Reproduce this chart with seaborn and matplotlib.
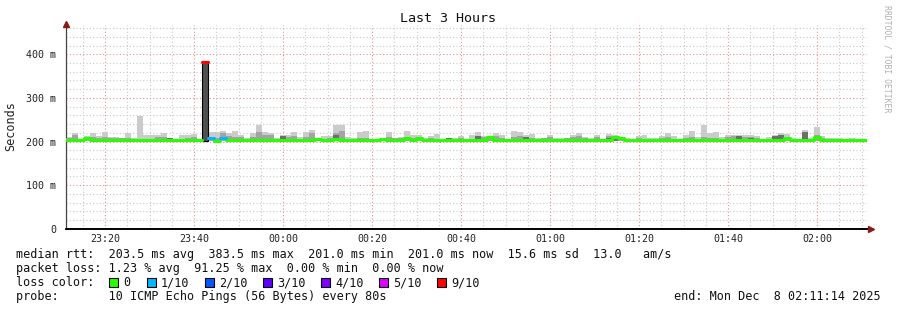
import datetime as dt
import numpy as np
import pandas as pd
import matplotlib
matplotlib.use("Agg")
import matplotlib.pyplot as plt
from matplotlib.patches import Rectangle
import seaborn as sns

# ---------------- data (ms), one value per 80 s step ----------------
smoke_floor = 201.0
smoke_max = [210, 220, 206, 212, 220, 212, 222, 210, 210, 208, 220, 208, 259, 216, 214, 214, 220, 208, 206, 216, 216, 217, 204, 385, 222, 222, 225,
             220, 224, 214, 207, 220, 239, 222, 220, 208, 214, 216, 222, 210, 222, 227, 208, 212, 212, 239, 239, 210, 207, 222, 224, 206, 206, 208, 222,
             208, 210, 225, 216, 216, 207, 212, 217, 206, 208, 207, 212, 205, 216, 222, 212, 212, 220, 216, 206, 225, 222, 216, 217, 207, 208, 214, 208,
             207, 208, 214, 220, 210, 207, 216, 203, 217, 216, 208, 207, 206, 212, 216, 208, 207, 212, 220, 212, 203, 214, 224, 210, 239, 220, 222, 210,
             214, 214, 214, 216, 214, 212, 206, 210, 216, 220, 217, 207, 205, 227, 207, 233, 212, 207, 207, 207, 205, 208, 203, 203]
smoke_mid = [207, 216, 204, 208, 210, 208, 210, 208, 208, 207, 208, 206, 206, 206, 206, 210, 210, 207, 205, 206, 208, 210, 203, 385, 208, 208, 220,
             212, 210, 210, 205, 210, 222, 214, 214, 206, 212, 210, 212, 206, 210, 220, 206, 206, 208, 220, 224, 206, 205, 208, 208, 205, 205, 206, 210,
             207, 207, 208, 208, 205, 205, 208, 205, 205, 207, 205, 208, 204, 206, 212, 210, 210, 212, 208, 205, 210, 212, 210, 207, 205, 207, 210, 206,
             206, 207, 210, 212, 208, 205, 210, 203, 212, 212, 206, 205, 205, 208, 206, 206, 205, 208, 210, 206, 203, 208, 210, 206, 210, 208, 208, 206,
             210, 212, 212, 210, 210, 208, 205, 206, 212, 216, 208, 205, 204, 222, 205, 214, 208, 205, 205, 205, 204, 206, 203, 203]
smoke_dark = [201, 201, 201, 201, 201, 201, 201, 201, 201, 201, 201, 201, 201, 201, 201, 201, 201, 207, 201, 201, 201, 201, 201, 385, 201, 201, 201,
              201, 201, 201, 201, 201, 201, 201, 201, 201, 212, 201, 201, 201, 201, 201, 201, 201, 201, 216, 201, 201, 201, 201, 201, 201, 201, 201, 201,
              201, 201, 201, 201, 201, 201, 201, 201, 201, 207, 201, 201, 201, 201, 212, 201, 201, 201, 201, 201, 201, 201, 210, 201, 201, 201, 201, 201,
              206, 201, 201, 201, 201, 205, 201, 201, 207, 212, 201, 201, 201, 201, 201, 201, 201, 201, 201, 201, 201, 201, 201, 201, 201, 201, 201, 201,
              201, 201, 212, 201, 207, 201, 201, 201, 212, 216, 201, 201, 201, 222, 201, 201, 201, 201, 201, 201, 201, 201, 201, 201]
median = [203, 203, 203, 208, 203, 203, 203, 203, 203, 203, 203, 203, 203, 203, 203, 203, 203, 203, 203, 203, 203, 203, 203, 383.5, 208, 201, 207,
          203, 203, 203, 203, 203, 203, 203, 203, 203, 204, 203, 203, 203, 203, 203, 206, 203, 203, 206, 203, 203, 203, 203, 203, 203, 203, 206, 203,
          203, 203, 208, 203, 208, 203, 203, 203, 203, 203, 203, 203, 203, 203, 203, 203, 210, 203, 203, 203, 203, 203, 203, 203, 203, 203, 203, 203,
          203, 203, 203, 203, 203, 203, 203, 203, 203, 210, 208, 203, 203, 203, 203, 203, 203, 203, 203, 203, 203, 203, 203, 203, 203, 203, 203, 203,
          203, 203, 203, 203, 203, 203, 203, 203, 203, 203, 208, 203, 203, 203, 203, 210, 203, 203, 203, 203, 203, 203, 203, 203]
loss_level = [0] * 23 + [9, 1, 0, 1] + [0] * 108

loss_labels = ["0", "1/10", "2/10", "3/10", "4/10", "5/10", "9/10"]
loss_values = [0, 1, 2, 3, 4, 5, 9]
loss_colors = ["#26ff00", "#00b8ff", "#0059ff", "#5e00ff", "#7e00ff", "#dd00ff", "#ff0000"]

y_ticks = [0, 100, 200, 300, 400]
start_time = dt.datetime(2025, 12, 7, 23, 11, 14)
step_min = 80 / 60
span_min = 180

# ---------------- figure ----------------
W, H = 897, 310
sns.set_theme(style="white")
plt.rcParams["font.family"] = ["DejaVu Sans Mono", "DejaVu Sans"]

fig = plt.figure(figsize=(W / 100, H / 100), dpi=100)
fig.patch.set_facecolor("white")
ax_left, ax_right, ax_bot, ax_top = 66, 867, 228.7, 24.7
ax = fig.add_axes([ax_left / W, (H - ax_bot) / H, (ax_right - ax_left) / W, (ax_bot - ax_top) / H])
ax.set_facecolor("white")
ymax = 468
ax.set_xlim(0, span_min)
ax.set_ylim(0, ymax)

n = len(median)
t0 = np.arange(n) * step_min
df = pd.DataFrame({"t": t0, "max": smoke_max, "mid": smoke_mid, "dark": smoke_dark,
                   "median": median, "loss": loss_level})

# smoke layers
ax.bar(df["t"], df["max"] - smoke_floor, bottom=smoke_floor, width=step_min, align="edge",
       color="#cbcbcb", linewidth=0, zorder=2)
ax.bar(df["t"], df["mid"] - smoke_floor, bottom=smoke_floor, width=step_min, align="edge",
       color="#a3a3a3", linewidth=0, zorder=3)
spike = int(np.argmax(smoke_dark))
dark_edges = ["#000000" if i == spike else "none" for i in range(n)]
ax.bar(df["t"], df["dark"] - smoke_floor, bottom=smoke_floor, width=step_min, align="edge",
       color=["#505050" if i == spike else "#6e6e6e" for i in range(n)],
       edgecolor=dark_edges, linewidth=0.8, zorder=4)

# median line, split into runs of equal loss level
rows = []
run = 0
for i in range(n):
    if i > 0 and loss_level[i] != loss_level[i - 1]:
        run += 1
    rows.append((t0[i], median[i], run, loss_level[i]))
    last = (i == n - 1) or loss_level[i + 1] != loss_level[i]
    if last:
        rows.append((t0[i] + step_min, median[i], run, loss_level[i]))
mdf = pd.DataFrame(rows, columns=["t", "median", "run", "loss"])
pal = {v: c for v, c in zip(loss_values, loss_colors)}
sns.lineplot(data=mdf, x="t", y="median", hue="loss", units="run", estimator=None,
             palette=pal, drawstyle="steps-post", linewidth=2.2, legend=False,
             ax=ax, zorder=6)

# grid / ticks
major_x = []
minor_x = []
cur = dt.datetime(2025, 12, 7, 23, 15)
while cur < start_time + dt.timedelta(minutes=span_min):
    pos = (cur - start_time).total_seconds() / 60
    if cur.minute % 20 == 0:
        major_x.append(pos)
    else:
        minor_x.append(pos)
    cur += dt.timedelta(minutes=5)
major_labels = [(start_time + dt.timedelta(minutes=p)).strftime("%H:%M") for p in major_x]

ax.set_xticks(major_x)
ax.set_xticklabels(major_labels)
ax.set_xticks(minor_x, minor=True)
ax.set_yticks(y_ticks)
ax.set_yticklabels([("%d m" % v) if v else "0" for v in y_ticks])
ax.set_yticks([v for v in range(20, 461, 20) if v % 100], minor=True)
ax.set_xlabel("")
ax.set_ylabel("")

ax.set_axisbelow(True)
ax.grid(which="minor", axis="both", color="#c8c8c8", linestyle=(0, (1, 2)), linewidth=0.8, zorder=0)
ax.grid(which="major", axis="both", color="#f08a8a", linestyle=(0, (1, 2)), linewidth=0.8, zorder=0)
ax.tick_params(axis="both", which="major", labelsize=7.2, labelcolor="#222222",
               length=2, width=0.8, color="#555555", direction="out")
ax.tick_params(axis="y", which="major", pad=5)
ax.tick_params(axis="x", which="major", pad=2)
ax.tick_params(axis="both", which="minor", length=2, width=0.6, color="#999999", direction="out")

for s in ["top", "right"]:
    ax.spines[s].set_visible(False)
ax.spines["left"].set_color("#444444")
ax.spines["left"].set_linewidth(0.9)
ax.spines["bottom"].set_color("#000000")
ax.spines["bottom"].set_linewidth(1.2)
ax.plot([0], [ymax + 2], marker="^", color="#8b1a1a", markersize=4, clip_on=False, zorder=10)
ax.plot([span_min + 0.9], [0], marker=">", color="#8b1a1a", markersize=4, clip_on=False, zorder=10)
ax.plot([0, span_min + 0.5], [0, 0], color="black", lw=1.2, clip_on=False, zorder=9)

# ---------------- texts ----------------
def P(x, y):
    return x / W, 1 - y / H

fig.text(*P(448, 19), "Last 3 Hours", ha="center", va="center", fontsize=9.6, color="#111111")
fig.text(*P(11, 126), "Seconds", ha="center", va="center", rotation=90, fontsize=8.5, color="#222222")
fig.text(*P(887, 59), "RRDTOOL / TOBI OETIKER", ha="center", va="center", rotation=270,
         fontsize=5.9, color="#b0b0b0")

fs = 8.5
fig.text(*P(16, 254.5), "median rtt:  203.5 ms avg  383.5 ms max  201.0 ms min  201.0 ms now  15.6 ms sd  13.0   am/s",
         ha="left", va="center", fontsize=fs, color="#111111")
fig.text(*P(16, 268.5), "packet loss: 1.23 % avg  91.25 % max  0.00 % min  0.00 % now",
         ha="left", va="center", fontsize=fs, color="#111111")
fig.text(*P(16, 282.5), "loss color:", ha="left", va="center", fontsize=fs, color="#111111")
box_x = [109, 147, 205, 263, 321, 379, 437]
for bx, lab, col in zip(box_x, loss_labels, loss_colors):
    fig.patches.append(Rectangle(((bx) / W, 1 - 287 / H), 9 / W, 9 / H, transform=fig.transFigure,
                                 facecolor=col, edgecolor="black", linewidth=0.8))
    fig.text(*P(bx + 14, 282.5), lab, ha="left", va="center", fontsize=fs, color="#111111")
fig.text(*P(16, 296.5), "probe:       10 ICMP Echo Pings (56 Bytes) every 80s",
         ha="left", va="center", fontsize=fs, color="#111111")
fig.text(*P(881, 296.5), "end: Mon Dec  8 02:11:14 2025", ha="right", va="center", fontsize=fs, color="#111111")

fig.savefig("out.png", dpi=100, facecolor="white")
